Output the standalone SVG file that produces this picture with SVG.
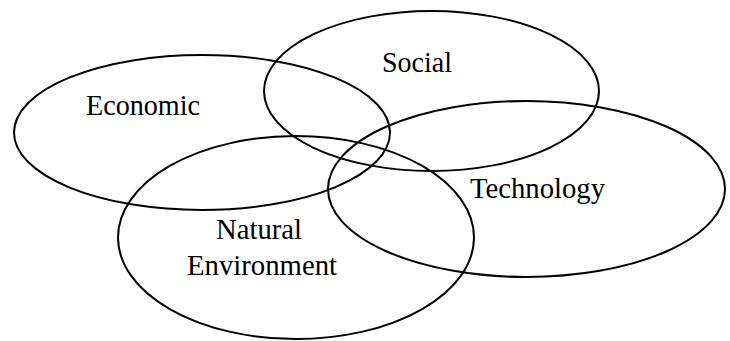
<svg xmlns="http://www.w3.org/2000/svg" width="730" height="341" viewBox="0 0 730 341">
<style>
.e{fill:none;stroke:#000;stroke-width:2}
.t{font-family:"Liberation Serif","Times New Roman",serif;font-size:29px;fill:#000}
</style>
<rect width="730" height="341" fill="#fff"/>
<g id="economic"><ellipse class="e" cx="202" cy="132.5" rx="188" ry="77.5"/><text class="t" x="86" y="115" textLength="114" lengthAdjust="spacingAndGlyphs">Economic</text></g>
<g id="social"><ellipse class="e" cx="431.5" cy="91" rx="167.5" ry="80"/><text class="t" x="382" y="72" textLength="70" lengthAdjust="spacingAndGlyphs">Social</text></g>
<g id="technology"><ellipse class="e" cx="526.5" cy="189" rx="198.5" ry="88"/><text class="t" x="470" y="198" textLength="135" lengthAdjust="spacingAndGlyphs">Technology</text></g>
<g id="natural"><ellipse class="e" cx="296" cy="237.5" rx="178" ry="101.5"/><text class="t" x="216" y="239" textLength="86" lengthAdjust="spacingAndGlyphs">Natural</text><text class="t" x="187" y="275" textLength="150" lengthAdjust="spacingAndGlyphs">Environment</text></g>
<g id="connectors"/>
</svg>
